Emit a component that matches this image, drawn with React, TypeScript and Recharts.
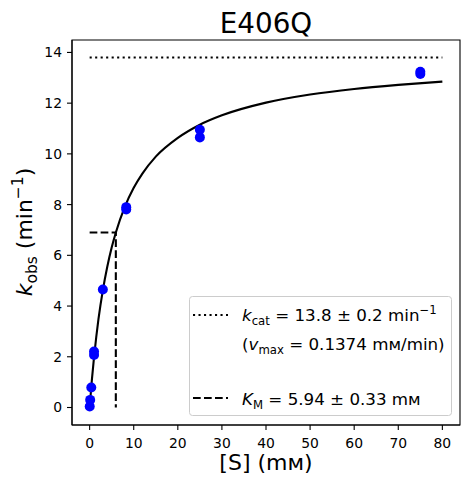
import {
  ComposedChart, Line, Scatter, XAxis, YAxis, ReferenceArea,
} from 'recharts'

// measured points, [S] in mM vs k_obs in 1/min
const S_MEASURED = [0.02, 0.12, 0.37, 1, 1, 3, 8.3, 8.3, 25, 25, 75, 75]
const KOBS_MEASURED = [0.04, 0.3, 0.79, 2.07, 2.21, 4.65, 7.81, 7.9, 10.65, 10.95, 13.15, 13.24]

// fitted curve
const FIT_S = [0, 0.5, 1, 1.5, 2, 3, 4, 5, 6, 8, 10, 12, 15, 20, 25, 30, 40, 50, 60, 70, 80]
const FIT_K = [0, 1.08, 1.99, 2.78, 3.48, 4.63, 5.55, 6.31, 6.93, 7.92, 8.66, 9.23, 9.89, 10.63, 11.15, 11.52, 12.02, 12.34, 12.56, 12.72, 12.85]

const KCAT_S = [0, 80]
const KCAT_K = [13.8, 13.8]

const KM_S = [0, 5.94, 5.94]
const KM_K = [6.9, 6.9, 0]

const X_TICKS = [0, 10, 20, 30, 40, 50, 60, 70, 80]
const Y_TICKS = [0, 2, 4, 6, 8, 10, 12, 14]

const zip = (xs: number[], ys: number[]) => xs.map((x, i) => ({ x, y: ys[i] }))

const points = zip(S_MEASURED, KOBS_MEASURED)
const fit = zip(FIT_S, FIT_K)
const kcat = zip(KCAT_S, KCAT_K)
const km = zip(KM_S, KM_K)

const FONT = 'DejaVu Sans'
const tick = { fill: '#000', fontSize: 13.9, fontFamily: FONT }
const LW = 2.1
const DOTTED = '2.1 3.4'
const DASHED = '7.7 3.3'

function Overlay() {
  return (
    <svg width={469} height={484} style={{ position: 'absolute', left: 0, top: 0, pointerEvents: 'none' }}
      fontFamily={FONT}>
      <text x={266} y={33} textAnchor="middle" fontSize={27.8}>E406Q</text>

      <text x={266} y={470} textAnchor="middle" fontSize={22}>[S] (mᴍ)</text>

      <text transform="translate(32,232) rotate(-90)" textAnchor="middle" fontSize={22}>
        <tspan fontStyle="italic">k</tspan>
        <tspan fontSize={15.5} dy={5}>obs</tspan>
        <tspan dy={-5}> (min</tspan>
        <tspan fontSize={15.5} dy={-9}>−1</tspan>
        <tspan dy={9}>)</tspan>
      </text>

      {/* legend */}
      <rect x={189.5} y={296.5} width={262} height={119} rx={3}
        fill="#fff" fillOpacity={0.8} stroke="#cccccc" />
      <line x1={193} x2={228} y1={315} y2={315} stroke="#000" strokeWidth={LW} strokeDasharray={DOTTED} />
      <line x1={193} x2={228} y1={398} y2={398} stroke="#000" strokeWidth={LW} strokeDasharray={DASHED} />
      <text x={242} y={321} fontSize={16.7}>
        <tspan fontStyle="italic">k</tspan>
        <tspan fontSize={11.7} dy={4}>cat</tspan>
        <tspan dy={-4}> = 13.8 ± 0.2 min</tspan>
        <tspan fontSize={11.7} dy={-7}>−1</tspan>
      </text>
      <text x={242} y={350} fontSize={16.7}>
        <tspan>(</tspan>
        <tspan fontStyle="italic">v</tspan>
        <tspan fontSize={11.7} dy={4}>max</tspan>
        <tspan dy={-4}> = 0.1374 mᴍ/min)</tspan>
      </text>
      <text x={242} y={405} fontSize={16.7}>
        <tspan fontStyle="italic">K</tspan>
        <tspan fontSize={11.7} dy={4}>M</tspan>
        <tspan dy={-4}> = 5.94 ± 0.33 mᴍ</tspan>
      </text>
    </svg>
  )
}

export default function App() {
  return (
    <div style={{ position: 'absolute', left: 0, top: 0, width: 469, height: 484, background: '#fff' }}>
      <ComposedChart width={469} height={484} margin={{ top: 40, right: 9, left: 0, bottom: 0 }}>
        <XAxis
          dataKey="x"
          type="number"
          domain={[-4, 84]}
          ticks={X_TICKS}
          allowDataOverflow
          height={59}
          tick={tick}
          tickSize={5}
          tickMargin={8}
          tickLine={{ stroke: '#000', strokeWidth: 1.1 }}
          axisLine={{ stroke: '#000', strokeWidth: 1.1 }}
        />
        <YAxis
          type="number"
          domain={[-0.69, 14.49]}
          ticks={Y_TICKS}
          allowDataOverflow
          width={72}
          tick={tick}
          tickSize={5}
          tickMargin={5}
          tickLine={{ stroke: '#000', strokeWidth: 1.1 }}
          axisLine={{ stroke: '#000', strokeWidth: 1.1 }}
        />

        <Line data={kcat} dataKey="y" type="linear" stroke="#000" strokeWidth={LW}
          strokeDasharray={DOTTED} dot={false} isAnimationActive={false} />
        <Line data={km} dataKey="y" type="linear" stroke="#000" strokeWidth={LW}
          strokeDasharray={DASHED} dot={false} isAnimationActive={false} />
        <Line data={fit} dataKey="y" type="monotone" stroke="#000" strokeWidth={LW}
          dot={false} isAnimationActive={false} />
        <Scatter data={points} dataKey="y" fill="#0000ff" isAnimationActive={false}
          shape={(p: any) => <circle cx={p.cx} cy={p.cy} r={5} fill="#0000ff" />} />

        <ReferenceArea x1={-4} x2={84} y1={-0.69} y2={14.49} fill="none" stroke="#000"
          strokeWidth={1.1} strokeOpacity={1} ifOverflow="visible" />
      </ComposedChart>
      <Overlay />
    </div>
  )
}
